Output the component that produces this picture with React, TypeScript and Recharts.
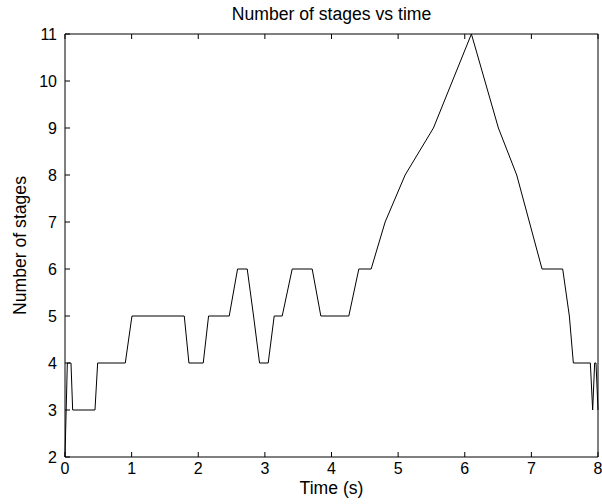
import { LineChart, Line, XAxis, YAxis } from "recharts";

// sample times (s) and number of stages
const times = [
  0, 0.035, 0.09, 0.115, 0.45, 0.49, 0.905, 1.005, 1.79, 1.86, 2.075, 2.155,
  2.465, 2.59, 2.735, 2.83, 2.92, 3.05, 3.14, 3.26, 3.41, 3.71, 3.84, 4.26,
  4.41, 4.595, 4.805, 5.105, 5.53, 6.1, 6.505, 6.78, 7.16, 7.47, 7.57, 7.63,
  7.885, 7.92, 7.95, 7.97, 8.0,
];
const stages = [
  2, 4, 4, 3, 3, 4, 4, 5, 5, 4, 4, 5, 5, 6, 6, 5, 4, 4, 5, 5, 6, 6, 5, 5, 6, 6,
  7, 8, 9, 11, 9, 8, 6, 6, 5, 4, 4, 3, 4, 4, 3,
];
const xTicks = [0, 1, 2, 3, 4, 5, 6, 7, 8];
const yTicks = [2, 3, 4, 5, 6, 7, 8, 9, 10, 11];

const data = times.map((t, i) => ({ t, n: stages[i] }));

const font = "'Liberation Sans', Arial, sans-serif";
const tickStyle = { fontSize: 16, fill: "#000", fontFamily: font };
const labelStyle = { fontSize: 17.6, fill: "#000", fontFamily: font };

export default function App() {
  return (
    <div style={{ position: "absolute", left: 0, top: 0, background: "#fff" }}>
      <LineChart
        width={602}
        height={504}
        data={data}
        margin={{ top: 33, right: 3, bottom: 0, left: 0 }}
      >
        <XAxis
          dataKey="t"
          type="number"
          domain={[0, 8]}
          ticks={xTicks}
          interval={0}
          height={47}
          stroke="#000"
          tickSize={-5}
          tickMargin={11}
          tick={tickStyle}
          label={{
            value: "Time (s)",
            position: "insideBottom",
            offset: 10,
            style: labelStyle,
          }}
        />
        <XAxis
          xAxisId="top"
          orientation="top"
          dataKey="t"
          type="number"
          domain={[0, 8]}
          ticks={xTicks}
          interval={0}
          height={1}
          stroke="#000"
          tickSize={-5}
          tickFormatter={() => ""}
          label={{
            value: "Number of stages vs time",
            position: "top",
            offset: 13,
            style: labelStyle,
          }}
        />
        <YAxis
          type="number"
          domain={[2, 11]}
          ticks={yTicks}
          interval={0}
          width={65}
          stroke="#000"
          tickSize={-5}
          tickMargin={13}
          tick={tickStyle}
          label={{
            value: "Number of stages",
            angle: -90,
            position: "insideLeft",
            offset: 20,
            style: { ...labelStyle, textAnchor: "middle" },
          }}
        />
        <YAxis
          yAxisId="right"
          orientation="right"
          type="number"
          domain={[2, 11]}
          ticks={yTicks}
          interval={0}
          width={1}
          stroke="#000"
          tickSize={-5}
          tickFormatter={() => ""}
        />
        <Line
          type="linear"
          dataKey="n"
          stroke="#000"
          strokeWidth={1}
          dot={false}
          isAnimationActive={false}
        />
      </LineChart>
    </div>
  );
}
